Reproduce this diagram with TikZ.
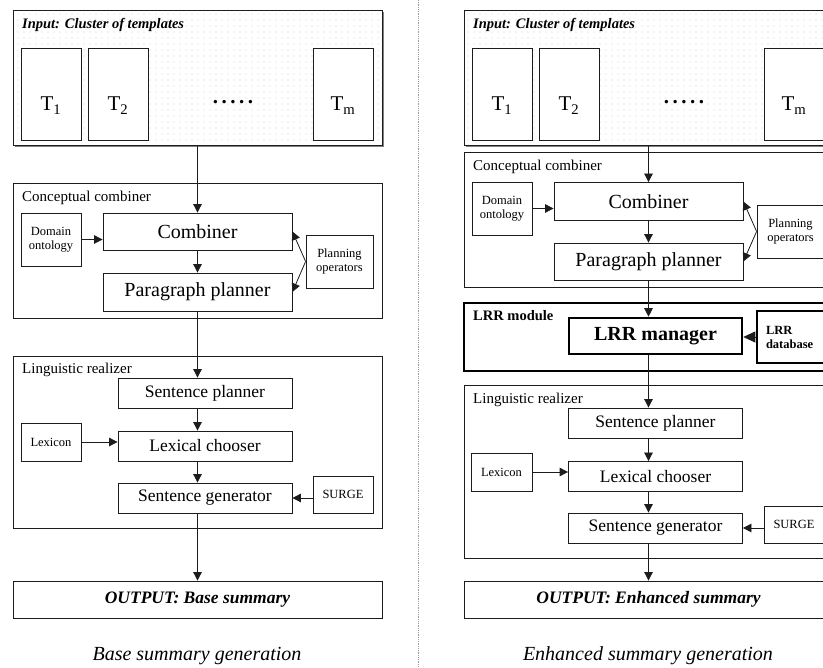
\documentclass[tikz,border=0pt]{standalone}
\usepackage{fontspec}
\setmainfont{Liberation Serif}
\usetikzlibrary{arrows.meta,shadows,patterns.meta}
\definecolor{genink}{HTML}{1C1C1C}
\definecolor{gendots}{HTML}{D2D2D2}
\definecolor{genrule}{HTML}{9C9C9C}
\tikzset{
  stage/.style={draw=genink, line width=0.8pt, minimum width=369pt, inner sep=0pt},
  inbox/.style={stage, minimum height=135pt, drop shadow={shadow xshift=1.6pt, shadow yshift=-1.6pt, fill=black!50, opacity=1}, preaction={fill=white}, pattern={Dots[distance=6pt, radius=0.6pt]}, pattern color=gendots},
  tbox/.style={draw=genink, line width=0.8pt, fill=white, minimum width=60pt, minimum height=92pt, inner sep=0pt, text height=34pt, text depth=0pt, font=\fontsize{21}{24}\selectfont},
  proc/.style={draw=genink, line width=0.8pt, fill=white, inner sep=0pt, minimum width=189pt, minimum height=37pt, font=\fontsize{20}{24}\selectfont},
  rlz/.style={draw=genink, line width=0.8pt, fill=white, inner sep=0pt, minimum width=174pt, minimum height=30pt, font=\fontsize{17.5}{20}\selectfont},
  aux/.style={draw=genink, line width=0.8pt, fill=white, inner sep=0pt, minimum width=60pt, align=center, font=\fontsize{12.5}{14}\selectfont},
  ttl/.style={anchor=base west, inner sep=0pt, font=\fontsize{15}{18}\selectfont},
  intl/.style={ttl, font=\fontsize{14.5}{17}\selectfont\bfseries\itshape},
  outp/.style={stage, minimum height=37pt, font=\fontsize{17.5}{20}\selectfont\bfseries\itshape},
  lrr/.style={draw=black, line width=2.6pt, inner sep=0pt},
  arr/.style={-{Triangle[length=8.5pt, width=8.5pt]}, line width=0.8pt, draw=genink},
  arrbig/.style={-{Triangle[length=12pt, width=11pt]}, line width=0.8pt, draw=genink},
  capt/.style={inner sep=0pt, font=\fontsize{20}{24}\selectfont\itshape},
}

\begin{document}
\begin{tikzpicture}[x=1pt, y=-1pt]
  \useasboundingbox (0,0) rectangle (823,668);
  \clip (0,0) rectangle (823,668);
  \draw[genrule, line width=0.8pt, densely dotted] (418,0) -- (418,668);

  \node[inbox] (bin) at (197.5,77.5) {};
  \node[intl] (bintl) at (22,29) {Input: Cluster of templates};
  \foreach \n/\x in {1/51, 2/118, m/343}
    \node[tbox] (bt\n) at (\x,94) {T\textsubscript{\n}};
  \node[anchor=base, inner sep=0pt, font=\fontsize{21}{24}\selectfont\bfseries] (bdots) at (233,104) {.\,.\,.\,.\,.};

  \node[stage, minimum height=135pt] (bcc) at (197.5,250.5) {};
  \node[ttl] (bcctl) at (22,202) {Conceptual combiner};
  \node[aux, minimum height=53pt] (bdom) at (51,239.5) {Domain\\ontology};
  \node[proc] (bcomb) at (197.5,231.5) {Combiner};
  \node[proc, minimum height=38pt] (bpara) at (197.5,292) {Paragraph planner};
  \node[aux, minimum width=67pt, minimum height=53pt] (bplan) at (339.5,261.5) {Planning\\operators};

  \node[stage, minimum height=172pt] (blr) at (197.5,442) {};
  \node[ttl] (blrtl) at (22,374) {Linguistic realizer};
  \node[rlz] (bsp) at (205,393) {Sentence planner};
  \node[rlz] (blc) at (205,446) {Lexical chooser};
  \node[rlz] (bsg) at (205,498) {Sentence generator};
  \node[aux, minimum height=38pt] (blex) at (51,442) {Lexicon};
  \node[aux, minimum height=37pt] (bsurge) at (343,494.5) {SURGE};

  \node[outp] (bout) at (197.5,599.5) {OUTPUT: Base summary};
  \node[capt] (bcap) at (197,656) {Base summary generation};

  \draw[arr] (bin.south) -- (bcomb.north);
  \draw[arr] (bdom.east) -- (bdom.east -| bcomb.west);
  \draw[arr] (bcomb.south) -- (bpara.north);
  \draw[arr] (bplan.west) -- (bcomb.east);
  \draw[arr] (bplan.west) -- (bpara.east);
  \draw[arr] (bpara.south) -- (bpara.south |- bsp.north);
  \draw[arr] (bsp.south -| bpara.south) -- (blc.north -| bpara.south);
  \draw[arr] (blex.east) -- (blex.east -| blc.west);
  \draw[arr] (blc.south -| bpara.south) -- (bsg.north -| bpara.south);
  \draw[arr] (bsurge.west |- bsg.east) -- (bsg.east);
  \draw[arr] (bsg.south -| bpara.south) -- (bout.north -| bpara.south);

  \node[inbox] (ein) at (648.5,77.5) {};
  \node[intl] (eintl) at (473,29) {Input: Cluster of templates};
  \foreach \n/\x in {1/502, 2/569, m/794}
    \node[tbox] (et\n) at (\x,94) {T\textsubscript{\n}};
  \node[anchor=base, inner sep=0pt, font=\fontsize{21}{24}\selectfont\bfseries] (edots) at (684,104) {.\,.\,.\,.\,.};

  \node[stage, minimum height=135pt] (ecc) at (648.5,219.5) {};
  \node[ttl] (ecctl) at (473,171) {Conceptual combiner};
  \node[aux, minimum height=53pt] (edom) at (502,208.5) {Domain\\ontology};
  \node[proc, minimum height=38pt] (ecomb) at (648.5,201.5) {Combiner};
  \node[proc] (epara) at (648.5,261.5) {Paragraph planner};
  \node[aux, minimum width=67pt, minimum height=53pt] (eplan) at (790.5,231.5) {Planning\\operators};

  \node[stage, lrr, minimum height=68pt] (emod) at (648.5,337) {};
  \node[ttl, font=\fontsize{14.5}{17}\selectfont\bfseries] (emodtl) at (473,321) {LRR module};
  \node[lrr, fill=white, minimum width=173pt, minimum height=36pt, font=\fontsize{20}{24}\selectfont\bfseries] (emgr) at (655.5,336) {LRR manager};
  \node[lrr, fill=white, minimum height=52pt, text width=55pt, inner xsep=9pt, align=left, font=\fontsize{12.5}{14}\selectfont\bfseries] (edb) at (793.5,337) {LRR\\database};

  \node[stage, minimum height=173pt] (elr) at (648.5,471.5) {};
  \node[ttl] (elrtl) at (473,404) {Linguistic realizer};
  \node[rlz] (esp) at (655.5,423) {Sentence planner};
  \node[rlz] (elc) at (655.5,476.5) {Lexical chooser};
  \node[rlz] (esg) at (655.5,528) {Sentence generator};
  \node[aux, minimum width=61pt, minimum height=38pt] (elex) at (501.5,472) {Lexicon};
  \node[aux, minimum height=37pt] (esurge) at (794,524.5) {SURGE};

  \node[outp] (eout) at (648.5,599.5) {OUTPUT: Enhanced summary};
  \node[capt] (ecap) at (648,656) {Enhanced summary generation};

  \draw[arr] (ein.south) -- (ecomb.north);
  \draw[arr] (edom.east) -- (edom.east -| ecomb.west);
  \draw[arr] (ecomb.south) -- (epara.north);
  \draw[arr] (eplan.west) -- (ecomb.east);
  \draw[arr] (eplan.west) -- (epara.east);
  \draw[arr] (epara.south) -- (epara.south |- emgr.north);
  \draw[arrbig] (edb.west) -- (edb.west -| emgr.east);
  \draw[arr] (emgr.south -| epara.south) -- (esp.north -| epara.south);
  \draw[arr] (esp.south -| epara.south) -- (elc.north -| epara.south);
  \draw[arr] (elex.east) -- (elex.east -| elc.west);
  \draw[arr] (elc.south -| epara.south) -- (esg.north -| epara.south);
  \draw[arr] (esurge.west |- esg.east) -- (esg.east);
  \draw[arr] (esg.south -| epara.south) -- (eout.north -| epara.south);
\end{tikzpicture}
\end{document}
